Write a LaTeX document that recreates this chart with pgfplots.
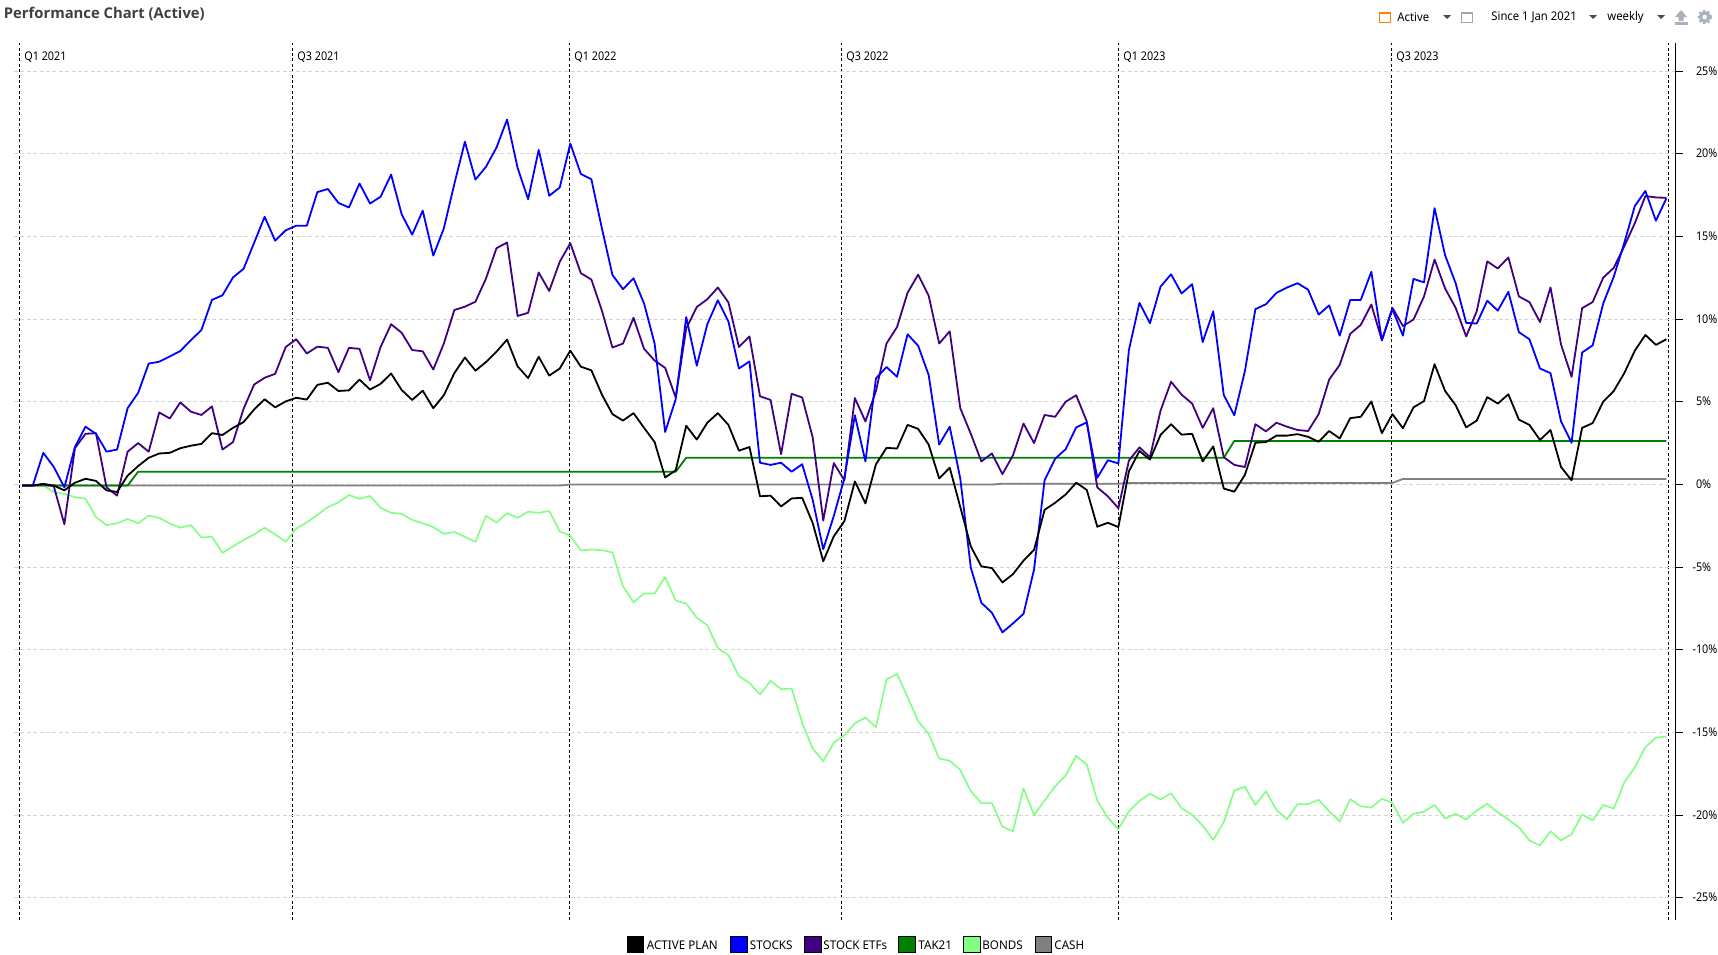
\documentclass[border=0pt]{standalone}
\usepackage{pgfplots}
\usepackage{pgfplotstable}
\pgfplotsset{compat=1.18}
\usepackage{fontspec}
\setmainfont{Noto Sans}
\newfontfamily\qfont[FakeStretch=0.9]{Noto Sans}
\newfontfamily\bfont[FakeStretch=0.94]{Noto Sans}
\newfontfamily\lfont[FakeStretch=0.97]{Noto Sans}
\newfontfamily\tfont{Open Sans}
\definecolor{cActive}{HTML}{000000}
\definecolor{cStocks}{HTML}{0000FF}
\definecolor{cEtf}{HTML}{400080}
\definecolor{cTak}{HTML}{008000}
\definecolor{cBonds}{HTML}{80FF80}
\definecolor{cCash}{HTML}{808080}
\definecolor{cIcon}{HTML}{A9B1BA}
\pgfplotstableread{
i A S E T B C
0 -0.06 -0.06 -0.06 -0.06 -0.06 -0.06
1 -0.06 -0.06 -0.06 -0.06 -0.06 -0.06
2 0.04 1.92 0.02 -0.06 -0.06 -0.06
3 -0.06 1.06 -0.11 -0.06 -0.45 -0.06
4 -0.35 -0.17 -2.40 -0.06 -0.56 -0.06
5 0.11 2.27 2.20 -0.06 -0.76 -0.06
6 0.35 3.50 3.07 -0.06 -0.86 -0.06
7 0.22 3.07 3.11 -0.06 -1.97 -0.06
8 -0.35 1.99 -0.17 -0.06 -2.45 -0.06
9 -0.45 2.12 -0.67 -0.06 -2.34 -0.06
10 0.54 4.62 1.99 -0.06 -2.08 -0.06
11 1.12 5.55 2.51 0.78 -2.34 -0.06
12 1.62 7.32 1.99 0.78 -1.88 -0.06
13 1.88 7.43 4.36 0.78 -2.01 -0.06
14 1.92 7.75 4.00 0.78 -2.36 -0.06
15 2.20 8.08 4.97 0.78 -2.61 -0.06
16 2.35 8.73 4.41 0.78 -2.45 -0.06
17 2.46 9.35 4.21 0.78 -3.20 -0.06
18 3.11 11.17 4.73 0.78 -3.16 -0.06
19 3.00 11.45 2.12 0.78 -4.13 -0.06
20 3.43 12.53 2.57 0.78 -3.74 -0.06
21 3.78 13.05 4.58 0.78 -3.35 -0.06
22 4.54 14.62 6.05 0.78 -3.02 -0.06
23 5.16 16.20 6.46 0.78 -2.61 -0.06
24 4.67 14.75 6.70 0.78 -3.02 -0.06
25 5.03 15.38 8.32 0.78 -3.46 -0.06
26 5.25 15.66 8.79 0.78 -2.66 -0.06
27 5.14 15.66 7.93 0.78 -2.29 -0.06
28 6.03 17.69 8.34 0.78 -1.84 -0.06
29 6.16 17.88 8.27 0.78 -1.36 -0.06
30 5.66 17.04 6.80 0.78 -1.08 -0.06
31 5.70 16.76 8.27 0.78 -0.63 -0.06
32 6.35 18.21 8.21 0.78 -0.86 -0.06
33 5.75 17.00 6.31 0.78 -0.69 -0.06
34 6.09 17.41 8.32 0.78 -1.40 -0.06
35 6.72 18.75 9.70 0.78 -1.71 -0.06
36 5.72 16.35 9.18 0.78 -1.77 -0.06
37 5.12 15.12 8.14 0.78 -2.14 -0.06
38 5.68 16.57 8.06 0.78 -2.34 -0.06
39 4.62 13.85 6.96 0.78 -2.57 -0.06
40 5.40 15.49 8.53 0.78 -2.98 -0.06
41 6.74 18.19 10.56 0.78 -2.87 -0.06
42 7.69 20.74 10.76 0.78 -3.16 -0.06
43 6.89 18.45 11.06 0.78 -3.46 -0.06
44 7.41 19.22 12.46 0.78 -1.90 -0.06
45 8.04 20.39 14.30 0.78 -2.29 -0.06
46 8.77 22.08 14.64 0.78 -1.73 -0.06
47 7.15 19.16 10.20 0.78 -2.01 -0.06
48 6.44 17.26 10.39 0.78 -1.64 -0.06
49 7.73 20.24 12.83 0.78 -1.71 -0.06
50 6.59 17.47 11.71 0.78 -1.60 -0.06
51 7.02 17.97 13.48 0.78 -2.83 -0.06
52 8.10 20.63 14.60 0.78 -3.10 0
53 7.13 18.79 12.79 0.78 -3.99 0
54 6.91 18.47 12.40 0.78 -3.93 0
55 5.44 15.49 10.52 0.78 -3.97 0
56 4.26 12.68 8.29 0.78 -4.11 0
57 3.87 11.82 8.53 0.78 -6.15 0
58 4.32 12.48 10.09 0.78 -7.12 0
59 3.43 10.95 8.21 0.78 -6.59 0
60 2.57 8.53 7.50 0.78 -6.59 0
61 0.43 3.18 7.06 0.78 -5.60 0
62 0.86 5.16 5.27 0.78 -7.02 0
63 3.56 10.13 9.44 1.62 -7.20 0
64 2.72 7.19 10.74 1.62 -8.06 0
65 3.74 9.70 11.21 1.62 -8.51 0
66 4.32 11.15 11.92 1.62 -9.90 0
67 3.61 9.87 11.02 1.62 -10.32 0
68 2.05 7.02 8.32 1.62 -11.59 0
69 2.27 7.45 8.96 1.62 -12.00 0
70 -0.71 1.32 5.34 1.62 -12.70 0
71 -0.67 1.19 5.12 1.62 -11.87 0
72 -1.32 1.32 1.84 1.62 -12.38 0
73 -0.84 0.78 5.49 1.62 -12.34 0
74 -0.80 1.23 5.27 1.62 -14.41 0
75 -2.33 -0.93 2.85 1.62 -15.97 0
76 -4.64 -3.91 -2.18 1.62 -16.73 0
77 -3.13 -1.90 1.30 1.62 -15.62 0
78 -2.22 0.37 0.26 1.62 -15.16 0
79 0.19 4.19 5.23 1.62 -14.45 0
80 -1.14 1.40 3.82 1.62 -14.09 0
81 1.23 6.42 5.66 1.62 -14.68 0
82 2.22 7.11 8.53 1.62 -11.79 0
83 2.18 6.52 9.53 1.62 -11.45 0
84 3.61 9.09 11.60 1.62 -12.86 0
85 3.37 8.40 12.70 1.62 -14.31 0
86 2.42 6.63 11.43 1.62 -15.08 0
87 0.37 2.42 8.53 1.62 -16.57 0
88 1.02 3.50 9.27 1.62 -16.71 0
89 -1.36 0.37 4.62 1.62 -17.26 0
90 -3.74 -5.03 3.07 1.62 -18.55 0
91 -4.95 -7.15 1.40 1.62 -19.27 0
92 -5.05 -7.75 1.88 1.62 -19.27 0
93 -5.92 -8.94 0.63 1.62 -20.69 0.05
94 -5.42 -8.40 1.77 1.62 -20.97 0.05
95 -4.60 -7.82 3.69 1.62 -18.37 0.05
96 -3.95 -5.14 2.51 1.62 -20.00 0.05
97 -1.53 0.26 4.21 1.62 -19.11 0.05
98 -1.10 1.56 4.10 1.62 -18.25 0.05
99 -0.60 2.14 5.01 1.62 -17.60 0.05
100 0.11 3.46 5.40 1.62 -16.41 0.05
101 -0.32 3.76 3.82 1.62 -16.94 0.05
102 -2.55 0.41 -0.17 1.62 -19.11 0.05
103 -2.31 1.47 -0.71 1.62 -20.16 0.05
104 -2.57 1.28 -1.43 1.62 -20.85 0.05
105 0.80 8.14 1.45 1.62 -19.76 0.10
106 2.03 10.99 2.25 1.62 -19.13 0.10
107 1.51 9.76 1.66 1.62 -18.71 0.10
108 3.00 11.97 4.47 1.62 -19.05 0.10
109 3.65 12.72 6.22 1.62 -18.67 0.10
110 3.02 11.56 5.44 1.62 -19.58 0.10
111 3.07 12.12 4.90 1.62 -19.98 0.10
112 1.40 8.62 3.43 1.62 -20.63 0.10
113 2.31 10.48 4.62 1.62 -21.49 0.10
114 -0.24 5.42 1.66 1.62 -20.42 0.10
115 -0.43 4.19 1.19 2.64 -18.51 0.10
116 0.58 6.85 1.06 2.64 -18.27 0.10
117 2.53 10.61 3.65 2.64 -19.38 0.10
118 2.57 10.91 3.22 2.64 -18.55 0.10
119 2.96 11.60 3.74 2.64 -19.68 0.10
120 2.96 11.92 3.50 2.64 -20.24 0.10
121 3.05 12.18 3.30 2.64 -19.33 0.10
122 2.89 11.79 3.24 2.64 -19.33 0.10
123 2.59 10.28 4.26 2.64 -19.07 0.10
124 3.24 10.84 6.35 2.64 -19.76 0.10
125 2.79 9.01 7.24 2.64 -20.38 0.10
126 4.02 11.17 9.12 2.64 -19.03 0.10
127 4.10 11.17 9.66 2.64 -19.46 0.10
128 5.03 12.87 10.89 2.64 -19.54 0.10
129 3.11 8.73 8.73 2.64 -19.01 0.10
130 4.26 10.61 10.69 2.64 -19.25 0.10
131 3.41 9.01 9.59 2.64 -20.46 0.34
132 4.67 12.44 9.98 2.64 -19.92 0.34
133 5.05 12.23 11.38 2.64 -19.78 0.34
134 7.28 16.72 13.61 2.64 -19.38 0.34
135 5.66 13.87 11.86 2.64 -20.20 0.34
136 4.80 12.18 10.69 2.64 -19.92 0.34
137 3.46 9.78 8.96 2.64 -20.26 0.34
138 3.87 9.74 10.48 2.64 -19.72 0.34
139 5.29 11.12 13.50 2.64 -19.31 0.34
140 4.90 10.52 13.07 2.64 -19.82 0.34
141 5.46 11.66 13.74 2.64 -20.26 0.34
142 3.93 9.22 11.38 2.64 -20.73 0.34
143 3.61 8.79 11.04 2.64 -21.53 0.34
144 2.70 7.02 9.83 2.64 -21.83 0.34
145 3.30 6.74 11.92 2.64 -20.97 0.34
146 1.06 3.82 8.47 2.64 -21.53 0.34
147 0.26 2.53 6.52 2.64 -21.15 0.34
148 3.43 7.99 10.67 2.64 -19.96 0.34
149 3.72 8.42 11.04 2.64 -20.32 0.34
150 5.01 10.95 12.51 2.64 -19.38 0.34
151 5.66 12.57 13.11 2.64 -19.60 0.34
152 6.74 14.62 14.41 2.64 -18.02 0.34
153 8.10 16.85 15.81 2.64 -17.10 0.34
154 9.05 17.76 17.45 2.64 -15.89 0.34
155 8.45 15.96 17.37 2.64 -15.30 0.34
156 8.79 17.32 17.34 2.64 -15.24 0.34
}\datatable
\begin{document}
\begin{tikzpicture}
\useasboundingbox (0pt,0pt) rectangle (859pt,-477pt);
\begin{axis}[
  at={(7pt,-460pt)},anchor=south west,
  scale only axis,width=830.8pt,height=438.5pt,
  xmin=-0.78,xmax=156.87,ymin=-26.34,ymax=26.71,
  axis x line=bottom,axis y line=right,
  axis line style={-},
  x axis line style={draw=none},
  y axis line style={black,line width=0.5pt},
  xtick={-0.26,25.67,51.92,77.76,104.0,129.9,156.2},
  xticklabels={},
  x tick style={draw=none},
  xmajorgrids,ymajorgrids,
  x grid style={black,line width=0.45pt,dash pattern=on 1.5pt off 1.2pt},
  y grid style={color=black!17,line width=0.5pt,dash pattern=on 2pt off 1.2pt},
  ytick={-25,-20,-15,-10,-5,0,5,10,15,20,25},
  yticklabels={\llap{-}25\%,\llap{-}20\%,\llap{-}15\%,\llap{-}10\%,\llap{-}5\%,0\%,5\%,10\%,15\%,20\%,25\%},
  y tick style={black,line width=0.5pt},
  major tick length=3.5pt,
  tick align=outside,
  y tick label style={anchor=west,inner sep=0pt,xshift=6.5pt,yshift=0.2pt,font=\qfont\fontsize{6}{7}\selectfont},
  clip=false,
]
\addplot[cCash,line width=0.9pt,line join=round] table[x=i,y=C]{\datatable};
\addplot[cBonds,line width=0.8pt,line join=round] table[x=i,y=B]{\datatable};
\addplot[cTak,line width=0.9pt,line join=round] table[x=i,y=T]{\datatable};
\addplot[cEtf,line width=0.9pt,line join=round] table[x=i,y=E]{\datatable};
\addplot[cStocks,line width=0.9pt,line join=round] table[x=i,y=S]{\datatable};
\addplot[cActive,line width=0.9pt,line join=round] table[x=i,y=A]{\datatable};
\end{axis}
\begin{scope}[x=0.5pt,y=-0.5pt,
  legtxt/.style={anchor=west,inner sep=0pt,font=\lfont\fontsize{6}{7}\selectfont,text=black},
  qtxt/.style={anchor=west,inner sep=0pt,font=\qfont\fontsize{6}{7}\selectfont,text=black},
  btxt/.style={anchor=west,inner sep=0pt,font=\bfont\fontsize{6}{7}\selectfont,text=black}]
% header
\node[anchor=west,inner sep=0pt,font=\tfont\bfseries\fontsize{7.4}{9}\selectfont,text=black!75] at (3.5,14.5) {Performance Chart (Active)};
% quarter labels
\foreach \xx/\tt in {24/Q1 2021,297/Q3 2021,574/Q1 2022,846/Q3 2022,1123/Q1 2023,1396/Q3 2023}
  \node[qtxt] at (\xx,57) {\tt};
% toolbar
\draw[orange,line width=0.5pt] (1379.5,12) rectangle (1390,22.5);
\draw[orange,line width=1pt] (1379.5,13) -- (1390,13);
\node[btxt] at (1397,17.5) {Active};
\fill[black!70] (1443,15) -- (1451,15) -- (1447,19) -- cycle;
\draw[black!35,line width=0.5pt] (1461.5,12) rectangle (1472,22.5);
\fill[black!35] (1461.5,12) rectangle (1472,14);
\node[btxt] at (1491,17.5) {Since 1 Jan 2021};
\fill[black!70] (1589,15) -- (1597,15) -- (1593,19) -- cycle;
\node[btxt] at (1607,17.5) {weekly};
\fill[black!70] (1657,15) -- (1665,15) -- (1661,19) -- cycle;
\fill[cIcon] (1681,10) -- (1687,17) -- (1683.5,17) -- (1683.5,21) -- (1678.5,21) -- (1678.5,17) -- (1675,17) -- cycle;
\fill[cIcon] (1674.5,22) rectangle (1687.5,24.5);
\draw[cIcon,line width=1.6pt] (1704.7,17) circle (4.2);
\draw[cIcon,line width=1.2pt,dash pattern=on 1.1pt off 1.1pt] (1704.7,17) circle (6);
% legend
\foreach \xa/\cc/\xt/\tt in {627/cActive/646.5/ACTIVE PLAN,730.5/cStocks/749.5/STOCKS,804.5/cEtf/823/STOCK ETFs,898.5/cTak/918/TAK21,963.5/cBonds/982/BONDS,1035/cCash/1054/CASH}{
  \draw[black,line width=0.5pt,fill=\cc] (\xa,936.5) rectangle ++(16.5,15.5);
  \node[legtxt] at (\xt,945) {\tt};
}
\end{scope}
\end{tikzpicture}
\end{document}
